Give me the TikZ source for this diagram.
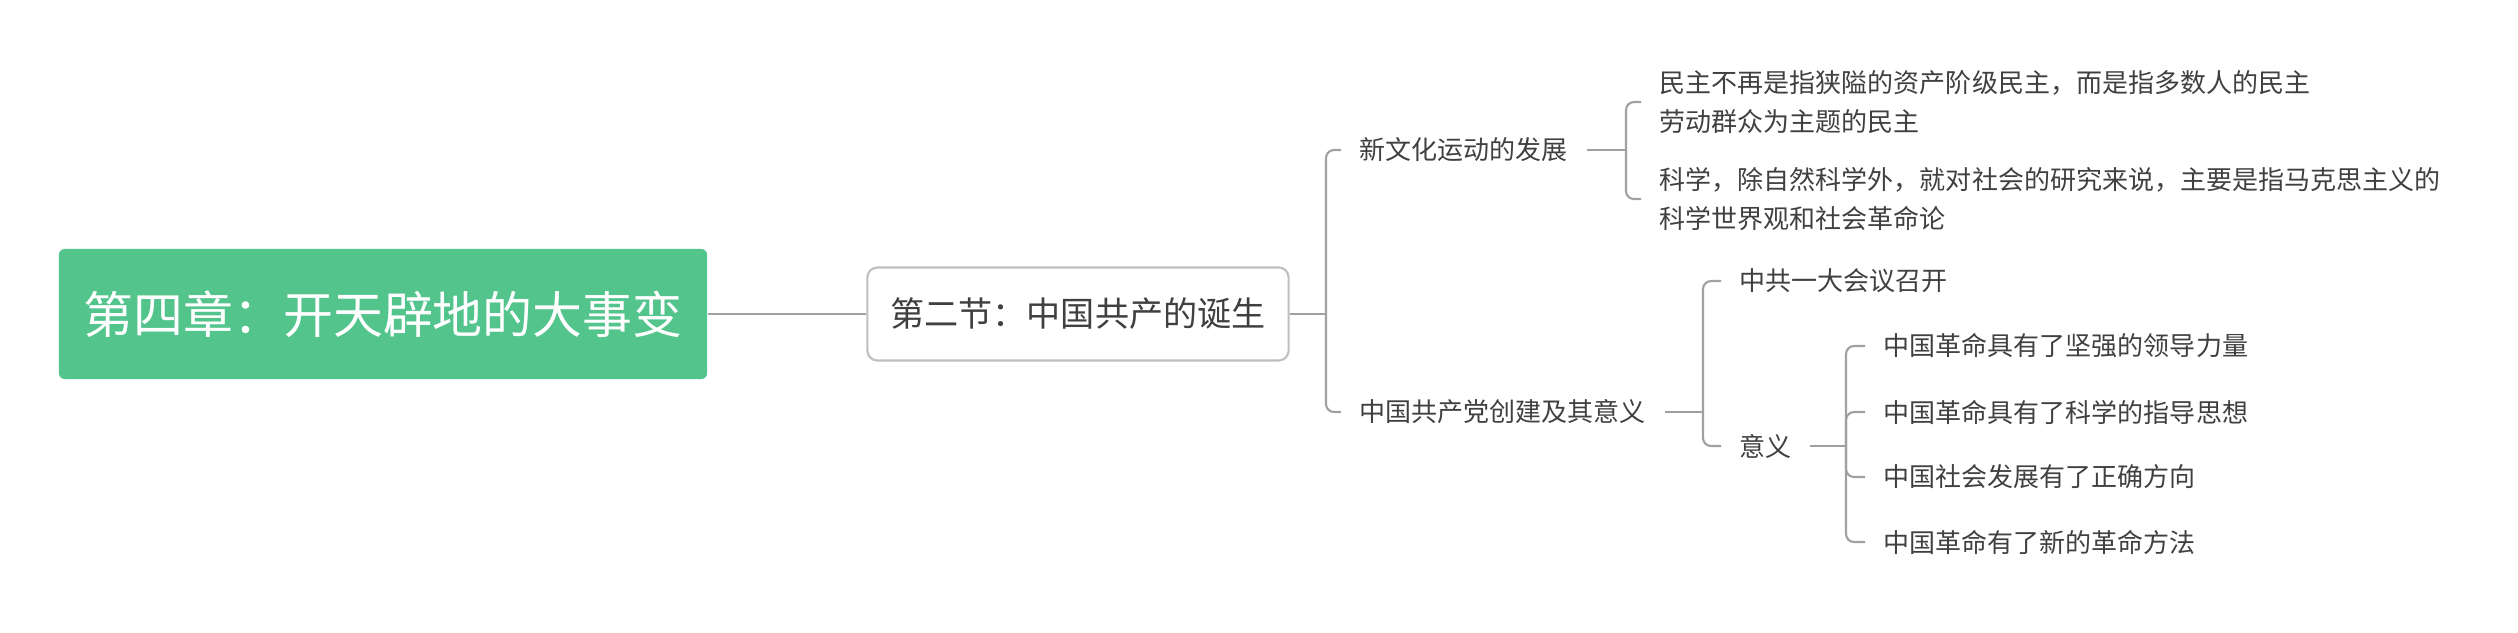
\documentclass[tikz,border=0pt]{standalone}
\usepackage{fontspec}
\setmainfont{Noto Sans CJK SC}
\usetikzlibrary{positioning}
\definecolor{rootgreen}{RGB}{82,196,140}
\definecolor{inkgray}{RGB}{64,64,64}
\definecolor{linegray}{RGB}{160,160,160}
\tikzset{root node/.style={rectangle,rounded corners=0.06cm,fill=rootgreen,text=white,minimum width=6.48cm,minimum height=1.3cm,inner sep=0pt,font=\fontsize{14.2}{17}\selectfont}}
\tikzset{section node/.style={rectangle,rounded corners=0.1cm,draw=gray!50,line width=0.6pt,fill=white,text=inkgray,minimum width=4.21cm,minimum height=0.93cm,inner sep=0pt,font=\fontsize{9.7}{12}\selectfont}}
\tikzset{topic node/.style={anchor=west,inner xsep=0.18cm,inner ysep=0pt,text=inkgray,align=left,font=\fontsize{7.4}{10.9}\selectfont}}
\tikzset{link/.style={draw=linegray,line width=0.6pt,rounded corners=0.08cm}}

\begin{document}
\begin{tikzpicture}[x=0.01cm,y=-0.01cm]
            \useasboundingbox (0,0) rectangle (2518,632);

            \node[root node] (root) at (383,314) {第四章：开天辟地的大事变};
            \node[section node] (sec) at (1078,314) {第二节：中国共产的诞生};

            \node[topic node] (culture) at (1341,150) {新文化运动的发展};
            \node[topic node] (party) at (1341,412) {中国共产党创建及其意义};

            \node[topic node] (democracy) at (1641,102) {民主不再是指狭隘的资产阶级民主，而是指多数人的民主\\劳动群众为主题的民主};
            \node[topic node] (science) at (1641,199) {科学，除自然科学外，就对社会的研究来说，主要是指马克思主义的\\科学世界观和社会革命论};

            \node[topic node] (congress) at (1721,281) {中共一大会议召开};
            \node[topic node] (meaning) at (1721,446) {意义};

            \node[topic node] (leader) at (1865,346) {中国革命具有了坚强的领导力量};
            \node[topic node] (thought) at (1865,412) {中国革命具有了科学的指导思想};
            \node[topic node] (course) at (1865,477) {中国社会发展有了正确方向};
            \node[topic node] (method) at (1865,542) {中国革命有了新的革命方法};

            \coordinate (secfork) at (1326,314);
            \coordinate (culturefork) at (1626,150);
            \coordinate (partyfork) at (1703,412);
            \coordinate (meaningfork) at (1846,446);

            % trunk
            \draw[link] (root.east) -- (sec.west);
            \draw[link] (sec.east) -- (secfork);
            \draw[link] (secfork) |- (culture.west);
            \draw[link] (secfork) |- (party.west);

            % new culture
            \draw[link] (culture.east) -- (culturefork);
            \draw[link] (culturefork) |- (democracy.west);
            \draw[link] (culturefork) |- (science.west);

            % party
            \draw[link] (party.east) -- (partyfork);
            \draw[link] (partyfork) |- (congress.west);
            \draw[link] (partyfork) |- (meaning.west);

            % meaning
            \draw[link] (meaning.east) -- (meaningfork);
            \foreach \leaf in {leader,thought,course,method}
                \draw[link] (meaningfork) |- (\leaf.west);
        \end{tikzpicture}
\end{document}
